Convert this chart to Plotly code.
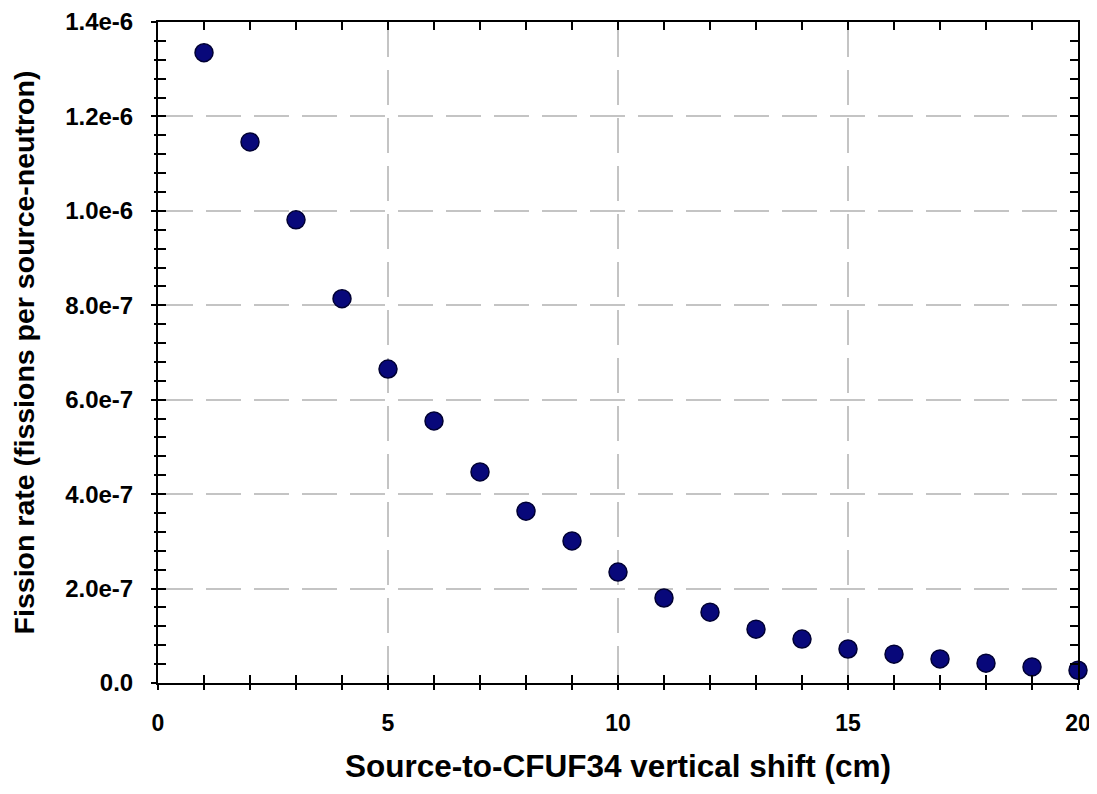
import plotly.graph_objects as go

shift_cm = [1, 2, 3, 4, 5, 6, 7, 8, 9, 10, 11, 12, 13, 14, 15, 16, 17, 18, 19, 20]
fission_rate = [1.335e-6, 1.146e-6, 0.981e-6, 0.814e-6, 0.665e-6, 0.555e-6, 0.447e-6,
                0.364e-6, 0.301e-6, 0.235e-6, 0.180e-6, 0.150e-6, 0.114e-6, 0.093e-6,
                0.072e-6, 0.061e-6, 0.051e-6, 0.042e-6, 0.034e-6, 0.027e-6]

x_tickvals = [0, 5, 10, 15, 20]
x_ticktext = ["0", "5", "10", "15", "20"]
y_tickvals = [0, 0.2e-6, 0.4e-6, 0.6e-6, 0.8e-6, 1.0e-6, 1.2e-6, 1.4e-6]
y_ticktext = ["0.0", "2.0e-7", "4.0e-7", "6.0e-7", "8.0e-7", "1.0e-6", "1.2e-6", "1.4e-6"]

FONT = "Arial, Liberation Sans, sans-serif"

fig = go.Figure()
fig.add_trace(go.Scatter(
    x=shift_cm, y=fission_rate, mode="markers",
    marker=dict(size=18, color="#08087a", line=dict(color="#000033", width=1.5)),
    showlegend=False, cliponaxis=False,
))
# invisible trace for overlay axes (outer halves of crossing ticks)
fig.add_trace(go.Scatter(x=[shift_cm[0]], y=[fission_rate[0]], xaxis="x2", yaxis="y2",
                         mode="markers", marker=dict(opacity=0), showlegend=False, hoverinfo="skip"))

grid = dict(showgrid=True, gridcolor="#c4c4c4", gridwidth=2, griddash="35px,13px")

fig.update_layout(
    width=1097, height=794,
    margin=dict(l=150, r=27, t=14, b=119),
    paper_bgcolor="white", plot_bgcolor="white",
    font=dict(family=FONT, color="black"),
    xaxis=dict(
        range=[0, 20], tickvals=x_tickvals, ticktext=x_ticktext, automargin=False,
        ticks="inside", ticklen=8, tickwidth=2, tickcolor="black",
        minor=dict(dtick=1, ticks="inside", ticklen=8, tickwidth=2, tickcolor="black", showgrid=False),
        showline=True, linecolor="black", linewidth=2, mirror="ticks",
        tickfont=dict(size=23, family=FONT, weight="bold"), ticklabelstandoff=18,
        title=dict(text="<b>Source-to-CFUF34 vertical shift (cm)</b>", font=dict(size=31.5, family=FONT), standoff=20),
        zeroline=False, **grid,
    ),
    yaxis=dict(
        range=[0, 1.4e-6], tickvals=y_tickvals, ticktext=y_ticktext, automargin=False,
        ticks="inside", ticklen=8, tickwidth=2, tickcolor="black",
        minor=dict(dtick=0.04e-6, tick0=0, ticks="inside", ticklen=8, tickwidth=2, tickcolor="black", showgrid=False),
        showline=True, linecolor="black", linewidth=2, mirror="ticks",
        tickfont=dict(size=24, family=FONT, weight="bold"), ticklabelstandoff=18,
        title=dict(text="<b>Fission rate (fissions per source-neutron)</b>", font=dict(size=28.5, family=FONT), standoff=31),
        zeroline=False, **grid,
    ),
    xaxis2=dict(
        overlaying="x", anchor="y2", matches="x", range=[0, 20], tickvals=x_tickvals, automargin=False,
        showticklabels=False, ticks="outside", ticklen=6, tickwidth=2, tickcolor="black",
        minor=dict(dtick=1, ticks="outside", ticklen=6, tickwidth=2, tickcolor="black"),
        showgrid=False, showline=False, zeroline=False,
    ),
    yaxis2=dict(
        overlaying="y", anchor="x2", matches="y", range=[0, 1.4e-6], tickvals=y_tickvals, automargin=False,
        showticklabels=False, ticks="outside", ticklen=6, tickwidth=2, tickcolor="black",
        minor=dict(dtick=0.04e-6, tick0=0, ticks="outside", ticklen=3, tickwidth=2, tickcolor="black"),
        showgrid=False, showline=False, zeroline=False,
    ),
)

fig.write_html("out.html")
